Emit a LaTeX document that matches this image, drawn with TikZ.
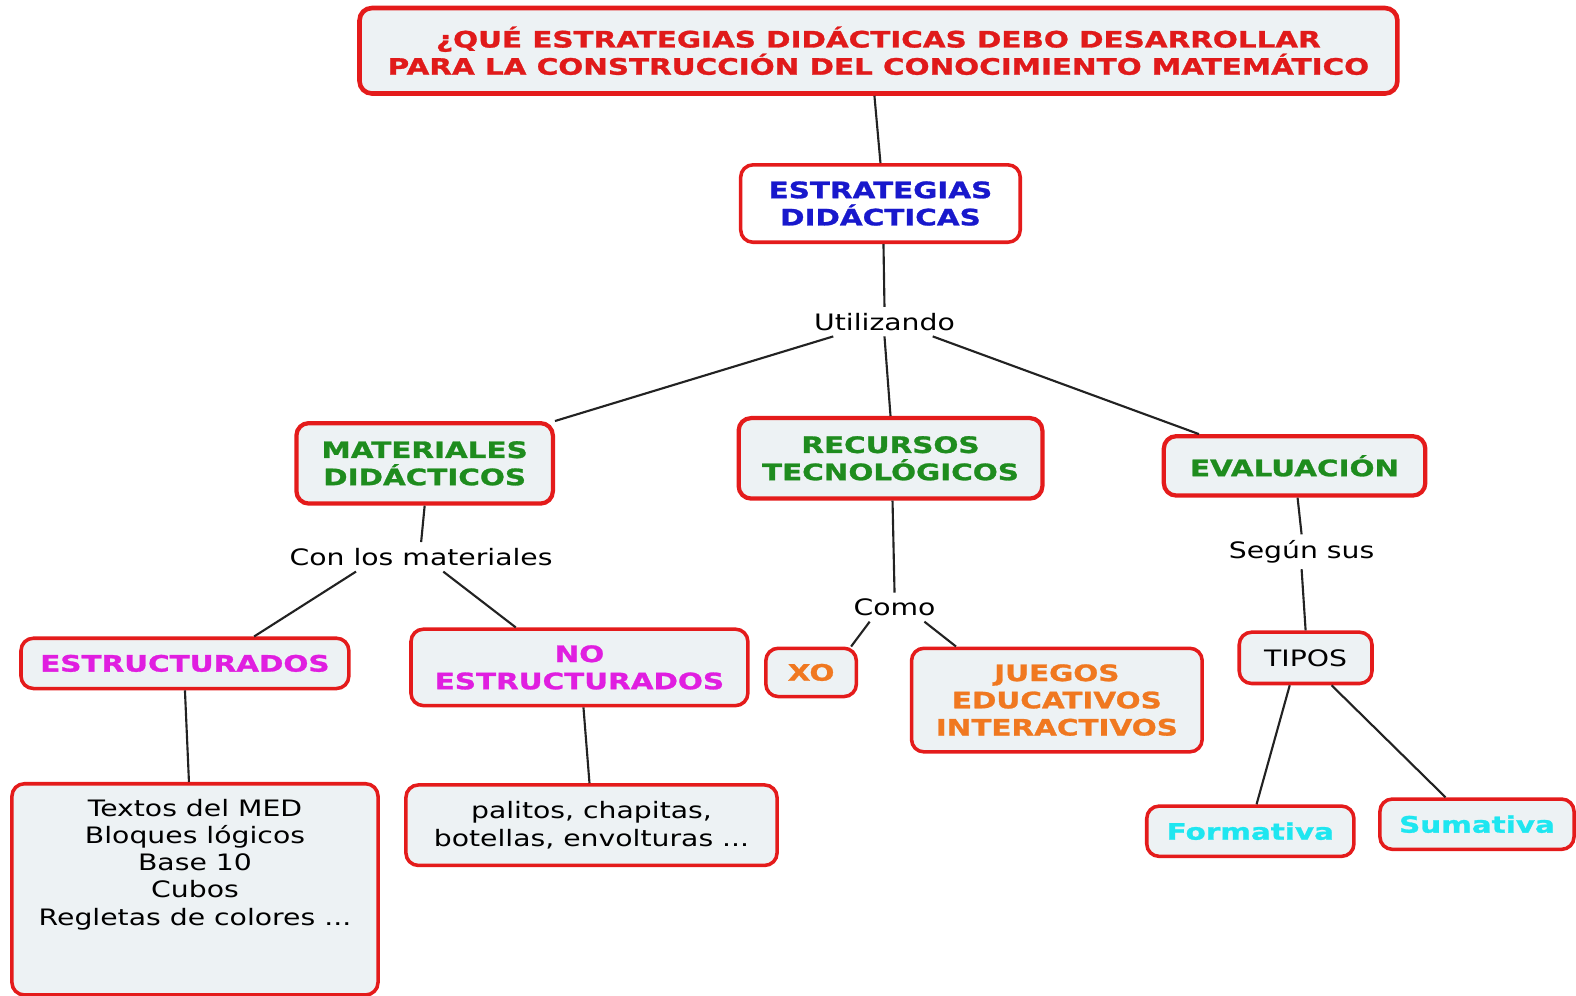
\documentclass[tikz,border=0pt]{standalone}
\usepackage{fontspec}
\setmainfont{DejaVu Sans}[FakeStretch=1.25, BoldFeatures={FakeStretch=1.30, FakeBold=1.2}]
\usetikzlibrary{calc}
\definecolor{boxfill}{HTML}{EDF2F4}
\definecolor{boxred}{HTML}{E41B1B}
\definecolor{titlered}{HTML}{E01A1A}
\definecolor{cblue}{HTML}{1818CC}
\definecolor{cgreen}{HTML}{1E8C1E}
\definecolor{cmagenta}{HTML}{E01EE0}
\definecolor{corange}{HTML}{F07820}
\definecolor{ccyan}{HTML}{1EE6F0}
\definecolor{linegray}{HTML}{222222}
\begin{document}
\begin{tikzpicture}[x=0.01cm,y=-0.01cm,
  font=\fontsize{6.4}{7.7}\selectfont,
  cbox/.style={draw=boxred, line width=1.0pt, rounded corners=3.5pt, fill=boxfill, align=center, inner sep=0pt},
  bf/.style={font=\fontsize{6.4}{7.7}\selectfont\bfseries},
  lbl/.style={inner sep=1.5pt, text=black},
  link/.style={draw=linegray, line width=0.6pt}]
\useasboundingbox (0,0) rectangle (1568,990);

\node[cbox, bf, line width=1.3pt, minimum width=10.32cm, minimum height=0.85cm, text=titlered] (title) at (874,50.5)
  {¿QUÉ ESTRATEGIAS DIDÁCTICAS DEBO DESARROLLAR\\PARA LA CONSTRUCCIÓN DEL CONOCIMIENTO MATEMÁTICO};
\node[cbox, bf, fill=white, minimum width=2.78cm, minimum height=0.77cm, text=cblue] (estr) at (876,202.5)
  {ESTRATEGIAS\\DIDÁCTICAS};
\node[lbl] (util) at (880,320) {Utilizando};

\node[cbox, bf, line width=1.2pt, minimum width=2.55cm, minimum height=0.80cm, text=cgreen] (mat) at (422.5,461)
  {MATERIALES\\DIDÁCTICOS};
\node[cbox, bf, line width=1.2pt, minimum width=3.02cm, minimum height=0.80cm, text=cgreen] (rec) at (886,456)
  {RECURSOS\\TECNOLÓGICOS};
\node[cbox, bf, line width=1.2pt, minimum width=2.60cm, minimum height=0.59cm, text=cgreen] (eval) at (1288,463.5)
  {EVALUACIÓN};

\node[lbl] (con) at (419,554) {Con los materiales};
\node[cbox, bf, minimum width=3.26cm, minimum height=0.50cm, text=cmagenta] (estruc) at (184,660)
  {ESTRUCTURADOS};
\node[cbox, bf, minimum width=3.35cm, minimum height=0.76cm, text=cmagenta] (noest) at (576.5,664)
  {NO\\ESTRUCTURADOS};

\node[cbox, minimum width=3.64cm, minimum height=2.10cm, anchor=north] (textos) at (194,778) {};
\node[lbl, align=center, anchor=north] (textosT) at (194,789)
  {Textos del MED\\Bloques lógicos\\Base 10\\Cubos\\Regletas de colores ...};
\node[cbox, minimum width=3.69cm, minimum height=0.80cm, text=black] (pal) at (588.5,821)
  {palitos, chapitas,\\botellas, envolturas ...};

\node[lbl] (como) at (890,604) {Como};
\node[cbox, bf, minimum width=0.90cm, minimum height=0.48cm, text=corange] (xo) at (807,669) {XO};
\node[cbox, bf, minimum width=2.89cm, minimum height=1.03cm, text=corange] (jue) at (1051.5,696.5)
  {JUEGOS\\EDUCATIVOS\\INTERACTIVOS};

\node[lbl] (seg) at (1295,549) {Según sus};
\node[cbox, minimum width=1.32cm, minimum height=0.51cm, text=black] (tipos) at (1299,654.5) {TIPOS};
\node[cbox, bf, minimum width=2.06cm, minimum height=0.50cm, text=ccyan] (form) at (1244,827) {Formativa};
\node[cbox, bf, minimum width=1.93cm, minimum height=0.50cm, text=ccyan] (sum) at (1469.5,820) {Sumativa};

\draw[link] ($(title.south)+(-4,0)$) -- (estr.north);
\draw[link] ($(estr.south)+(3,0)$) -- (util.north);
\draw[link] ($(util.south west)+(25,0)$) -- (mat.north east);
\draw[link] (util.south) -- (rec.north);
\draw[link] ($(util.south east)+(-28,0)$) -- ($(eval.north west)+(37,0)$);
\draw[link] (mat.south) -- (con.north);
\draw[link] ($(con.south west)+(72,0)$) -- ($(estruc.north east)+(-96,0)$);
\draw[link] ($(con.south)+(22,0)$) -- ($(noest.north west)+(106,0)$);
\draw[link] (estruc.south) -- ($(textos.north)+(-6,0)$);
\draw[link] ($(noest.south)+(4,0)$) -- ($(pal.north)+(-2,0)$);
\draw[link] ($(rec.south)+(2,0)$) -- (como.north);
\draw[link] ($(como.south west)+(22,0)$) -- ($(xo.north east)+(-7,0)$);
\draw[link] ($(como.south east)+(-17,0)$) -- ($(jue.north west)+(46,0)$);
\draw[link] ($(eval.south)+(3,0)$) -- (seg.north);
\draw[link] (seg.south) -- (tipos.north);
\draw[link] ($(tipos.south west)+(52,0)$) -- ($(form.north west)+(111,0)$);
\draw[link] ($(tipos.south east)+(-42,0)$) -- ($(sum.north west)+(67,0)$);
\end{tikzpicture}
\end{document}
